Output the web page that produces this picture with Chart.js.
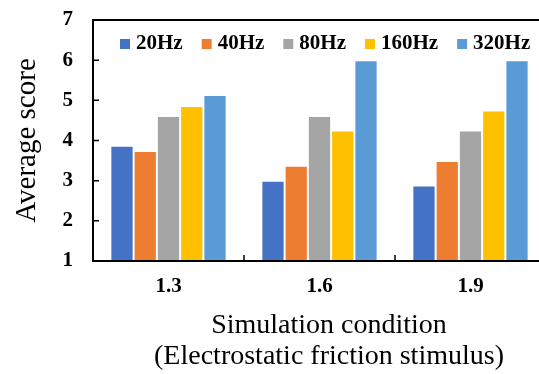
<!DOCTYPE html>
<html>
<head>
<meta charset="utf-8">
<script src="https://cdn.jsdelivr.net/npm/chart.js@4/dist/chart.umd.min.js"></script>
<style>
    html, body { margin: 0; padding: 0; background: #ffffff; overflow: hidden; }
    /* the plot runs past the right edge of the picture, so the canvas is wider than the window */
    #wrap { width: 539px; height: 374px; overflow: hidden; }
</style>
</head>
<body>
<div id="wrap"><canvas id="myChart" width="546" height="374"></canvas></div>
<script>
    var conditions = ['1.3', '1.6', '1.9'];
    var frequencies = ['20Hz', '40Hz', '80Hz', '160Hz', '320Hz'];
    var scores20 = [3.87, 3.0, 2.88];
    var scores40 = [3.74, 3.37, 3.49];
    var scores80 = [4.61, 4.61, 4.25];
    var scores160 = [4.86, 4.25, 4.75];
    var scores320 = [5.13, 6.0, 6.0];
    var barColors = ['#4472C4', '#ED7D31', '#A5A5A5', '#FFC000', '#5B9BD5'];
    var yTicks = [1, 2, 3, 4, 5, 6, 7];
    var xTitleLines = ['Simulation condition', '(Electrostatic friction stimulus)'];

    var serif = '"Liberation Serif", "Times New Roman", serif';
    var allScores = [scores20, scores40, scores80, scores160, scores320];

    // frame around the plot, with the small ticks pointing inwards
    var framePlugin = {
        id: 'frame',
        afterDatasetsDraw: function (chart) {
            var ctx = chart.ctx;
            var area = chart.chartArea;
            var x = chart.scales.x;
            var y = chart.scales.y;
            ctx.save();
            ctx.strokeStyle = '#000000';
            ctx.lineWidth = 2;
            ctx.strokeRect(area.left, area.top, area.right - area.left, area.bottom - area.top);
            ctx.lineWidth = 1.5;
            ctx.beginPath();
            yTicks.forEach(function (v) {
                var py = y.getPixelForValue(v);
                ctx.moveTo(area.left, py);
                ctx.lineTo(area.left + 6, py);
            });
            for (var i = 1; i < conditions.length; i++) {
                var px = (x.getPixelForValue(i - 1) + x.getPixelForValue(i)) / 2;
                ctx.moveTo(px, area.bottom);
                ctx.lineTo(px, area.bottom - 6);
            }
            ctx.stroke();
            ctx.restore();
        }
    };

    // one row legend drawn inside the plot, under the top border
    var innerLegendPlugin = {
        id: 'innerLegend',
        afterDatasetsDraw: function (chart) {
            var ctx = chart.ctx;
            var area = chart.chartArea;
            var box = 10, gap = 6, spacing = 19;
            ctx.save();
            ctx.font = 'bold 21px ' + serif;
            ctx.textBaseline = 'middle';
            var px = area.left + 27;
            var cy = area.top + 24;
            chart.data.datasets.forEach(function (ds) {
                ctx.fillStyle = ds.backgroundColor;
                ctx.fillRect(px, cy - box / 2, box, box);
                ctx.fillStyle = '#000000';
                ctx.fillText(ds.label, px + box + gap, cy);
                px += box + gap + ctx.measureText(ds.label).width + spacing;
            });
            ctx.restore();
        }
    };

    // x title, centred a little right of the plot centre like the original
    var xTitlePlugin = {
        id: 'xTitle',
        afterDraw: function (chart) {
            var ctx = chart.ctx;
            var area = chart.chartArea;
            var cx = (area.left + 539) / 2 + 13;
            ctx.save();
            ctx.font = '28px ' + serif;
            ctx.fillStyle = '#000000';
            ctx.textAlign = 'center';
            ctx.textBaseline = 'middle';
            xTitleLines.forEach(function (line, i) {
                ctx.fillText(line, cx, area.bottom + 65 + i * 31);
            });
            ctx.restore();
        }
    };

    var ctx = document.getElementById('myChart').getContext('2d');
    new Chart(ctx, {
        type: 'bar',
        data: {
            labels: conditions,
            datasets: frequencies.map(function (name, i) {
                return {
                    label: name,
                    data: allScores[i],
                    backgroundColor: barColors[i],
                    borderColor: '#ffffff',
                    borderWidth: 1,
                    categoryPercentage: 0.77,
                    barPercentage: 1.0
                };
            })
        },
        options: {
            responsive: false,
            animation: false,
            layout: {
                padding: {top: 20, right: 0, bottom: 0, left: 0}
            },
            plugins: {
                legend: {display: false},
                tooltip: {enabled: false}
            },
            scales: {
                x: {
                    grid: {display: false, drawTicks: false},
                    border: {display: false},
                    ticks: {
                        color: '#000000',
                        padding: 13,
                        font: {family: serif, size: 21, weight: 'bold'}
                    },
                    afterFit: function (scale) {
                        scale.height = 113;
                        scale.paddingLeft = 0;
                        scale.paddingRight = 0;
                    }
                },
                y: {
                    min: 1,
                    max: 7,
                    grid: {display: false, drawTicks: false},
                    border: {display: false},
                    afterBuildTicks: function (scale) {
                        scale.ticks = yTicks.map(function (v) { return {value: v}; });
                    },
                    ticks: {
                        color: '#000000',
                        padding: 20,
                        font: {family: serif, size: 21, weight: 'bold'}
                    },
                    title: {
                        display: true,
                        text: 'Average score',
                        color: '#000000',
                        font: {family: serif, size: 29, lineHeight: 1.2},
                        padding: {top: 10, bottom: 0}
                    },
                    afterFit: function (scale) {
                        scale.width = 93;
                        scale.paddingTop = 0;
                        scale.paddingBottom = 0;
                    }
                }
            }
        },
        plugins: [framePlugin, innerLegendPlugin, xTitlePlugin]
    });
</script>
</body>
</html>
